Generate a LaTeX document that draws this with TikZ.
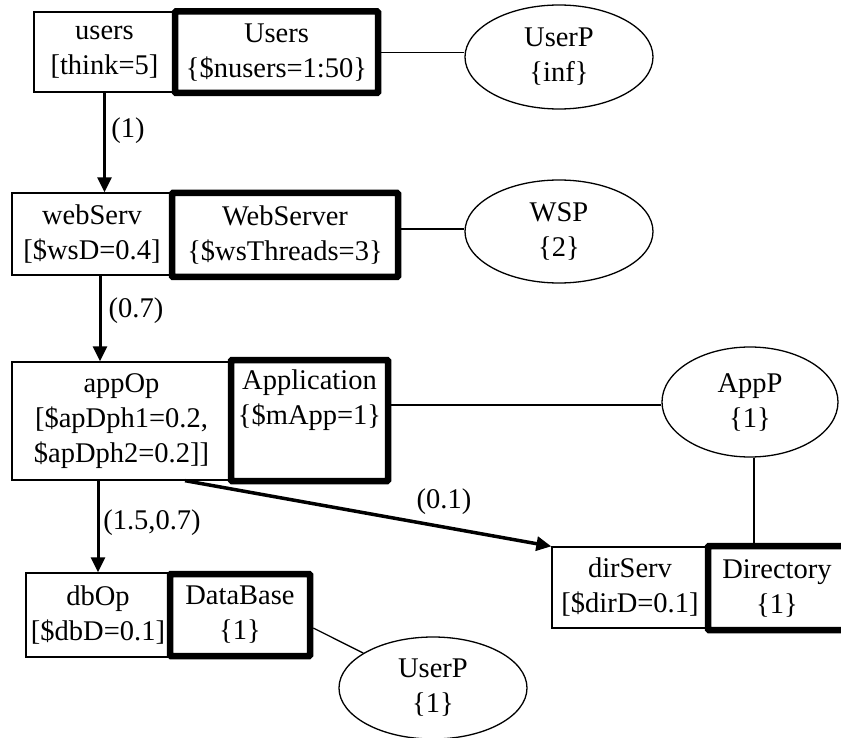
\documentclass[tikz,border=0pt]{standalone}
\usepackage{fontspec}
\setmainfont{Liberation Serif}
\usetikzlibrary{arrows.meta,shapes.geometric}
\begin{document}
\begin{tikzpicture}[x=1pt,y=-1pt,
  every node/.style={font=\fontsize{28.5}{35}\selectfont, align=center, inner sep=0pt},
  thinbox/.style={draw, line width=1.3pt, rectangle},
  thickbox/.style={draw, line width=6.5pt, rectangle, rounded corners=1pt},
  proc/.style={draw, ellipse, line width=1.3pt},
  link/.style={line width=1.3pt},
  flow/.style={line width=3pt, -{Triangle[length=15pt,width=14pt]}}]
\useasboundingbox (0,0) rectangle (841,738);

% row 1
\node[thinbox, minimum width=141, minimum height=80] (users) at (104.5,52) {users\\{[think=5]}};
\node[thickbox, minimum width=203, minimum height=81.5] (Users) at (276.5,52.25) {Users\\\{\$nusers=1:50\}};
\node[proc, minimum width=188, minimum height=104] (UserP) at (559,57) {UserP\\\{inf\}};

% row 2
\node[thinbox, minimum width=160, minimum height=82] (webServ) at (92,234) {webServ\\{[\$wsD=0.4]}};
\node[thickbox, minimum width=226, minimum height=84] (WebServer) at (285,235) {WebServer\\\{\$wsThreads=3\}};
\node[proc, minimum width=188, minimum height=103] (WSP) at (559,231.5) {WSP\\\{2\}};

% row 3
\node[thinbox, minimum width=219, minimum height=118] (appOp) at (121.5,421) {appOp\\{[\$apDph1=0.2,}\\\$apDph2=0.2]]};
\node[thickbox, minimum width=157, minimum height=121] (Application) at (309.5,420.5) {};
\node (apptext) at (309.5,400) {Application\\\{\$mApp=1\}};
\node[proc, minimum width=176, minimum height=110] (AppP) at (750,402) {AppP\\\{1\}};

% row 4
\node[thinbox, minimum width=144, minimum height=84] (dbOp) at (98,615) {dbOp\\{[\$dbD=0.1]}};
\node[thickbox, minimum width=140, minimum height=82] (DataBase) at (240,615) {DataBase\\\{1\}};
\node[proc, minimum width=188, minimum height=102] (UserP2) at (433,688) {UserP\\\{1\}};
\node[thinbox, minimum width=156, minimum height=81] (dirServ) at (630,587.5) {dirServ\\{[\$dirD=0.1]}};
\node[thickbox, minimum width=138, minimum height=84] (Directory) at (777,588) {Directory\\\{1\}};

% links to processors
\draw[link] (Users.east) -- (Users.east -| UserP.west);
\draw[link] ([yshift=6pt]WebServer.east) -- ([yshift=6pt]WebServer.east -| WSP.west);
\draw[link] ([yshift=15.5pt]Application.east) -- ([yshift=15.5pt]Application.east -| AppP.west);
\draw[link] ([xshift=4pt]AppP.south) -- ([xshift=4pt]AppP.south |- Directory.north);
\draw[link] ([yshift=-13pt]DataBase.east) -- (UserP2);

% flows
\draw[flow] (users.south) -- (users.south |- webServ.north);
\draw[flow] ([xshift=8pt]webServ.south) -- ([xshift=8pt]webServ.south |- appOp.north);
\draw[flow] (dbOp.north |- appOp.south) -- (dbOp.north);
\draw[flow, line width=3.5pt] ([xshift=63.5pt]appOp.south) -- (dirServ.north west);

% labels
\node (l1) at (128,131) {(1)};
\node (l2) at (136,311) {(0.7)};
\node (l3) at (152,523) {(1.5,0.7)};
\node (l4) at (444,502) {(0.1)};
\end{tikzpicture}
\end{document}
